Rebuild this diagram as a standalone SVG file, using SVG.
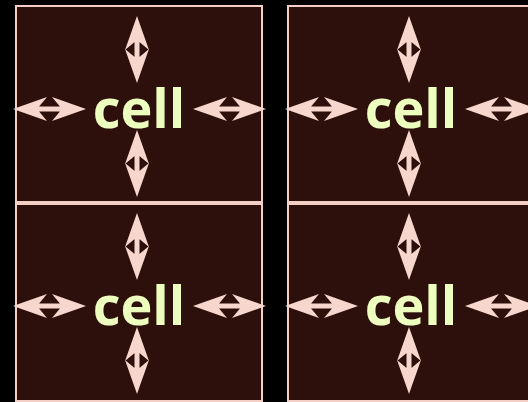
<svg xmlns="http://www.w3.org/2000/svg" width="528" height="402" viewBox="0 0 528 402">
<style>
.cell-box{fill:#2d100b;stroke:#f3cfc6;stroke-width:2}
.arrow{fill:#f7d6ce}
.label{font-family:"Open Sans","Noto Sans",sans-serif;font-weight:bold;font-size:54px;fill:#ecffbe;text-anchor:middle}
</style>
<defs>
<path id="hArrow" d="M0,0 L34,-12 L24,0 L34,12 Z M73,0 L39,12 L49,0 L39,-12 Z M24,-2.5 H49 V2.5 H24 Z"/>
<path id="vArrow" d="M0,0 L12,34 L0,24 L-12,34 Z M0,67 L-12,33 L0,43 L12,33 Z M-2.5,24 H2.5 V43 H-2.5 Z"/>
</defs>
<rect width="528" height="402" fill="#000"/>
<g id="cell-1">
<rect class="cell-box" x="16" y="6" width="246" height="196"/>
<text class="label" x="139" y="128">cell</text>
</g>
<g id="cell-2">
<rect class="cell-box" x="288" y="6" width="246" height="196"/>
<text class="label" x="411" y="128">cell</text>
</g>
<g id="cell-3">
<rect class="cell-box" x="16" y="204" width="246" height="197"/>
<text class="label" x="139" y="325">cell</text>
</g>
<g id="cell-4">
<rect class="cell-box" x="288" y="204" width="246" height="197"/>
<text class="label" x="411" y="325">cell</text>
</g>
<g id="connectors" class="arrow">
<use href="#vArrow" x="137" y="16"/>
<use href="#vArrow" x="137" y="130"/>
<use href="#hArrow" x="13" y="109"/>
<use href="#hArrow" x="193" y="109"/>
<use href="#vArrow" x="409" y="16"/>
<use href="#vArrow" x="409" y="130"/>
<use href="#hArrow" x="285" y="109"/>
<use href="#hArrow" x="465" y="109"/>
<use href="#vArrow" x="137" y="213"/>
<use href="#vArrow" x="137" y="327"/>
<use href="#hArrow" x="13" y="306"/>
<use href="#hArrow" x="193" y="306"/>
<use href="#vArrow" x="409" y="213"/>
<use href="#vArrow" x="409" y="327"/>
<use href="#hArrow" x="285" y="306"/>
<use href="#hArrow" x="465" y="306"/>
</g>
</svg>
